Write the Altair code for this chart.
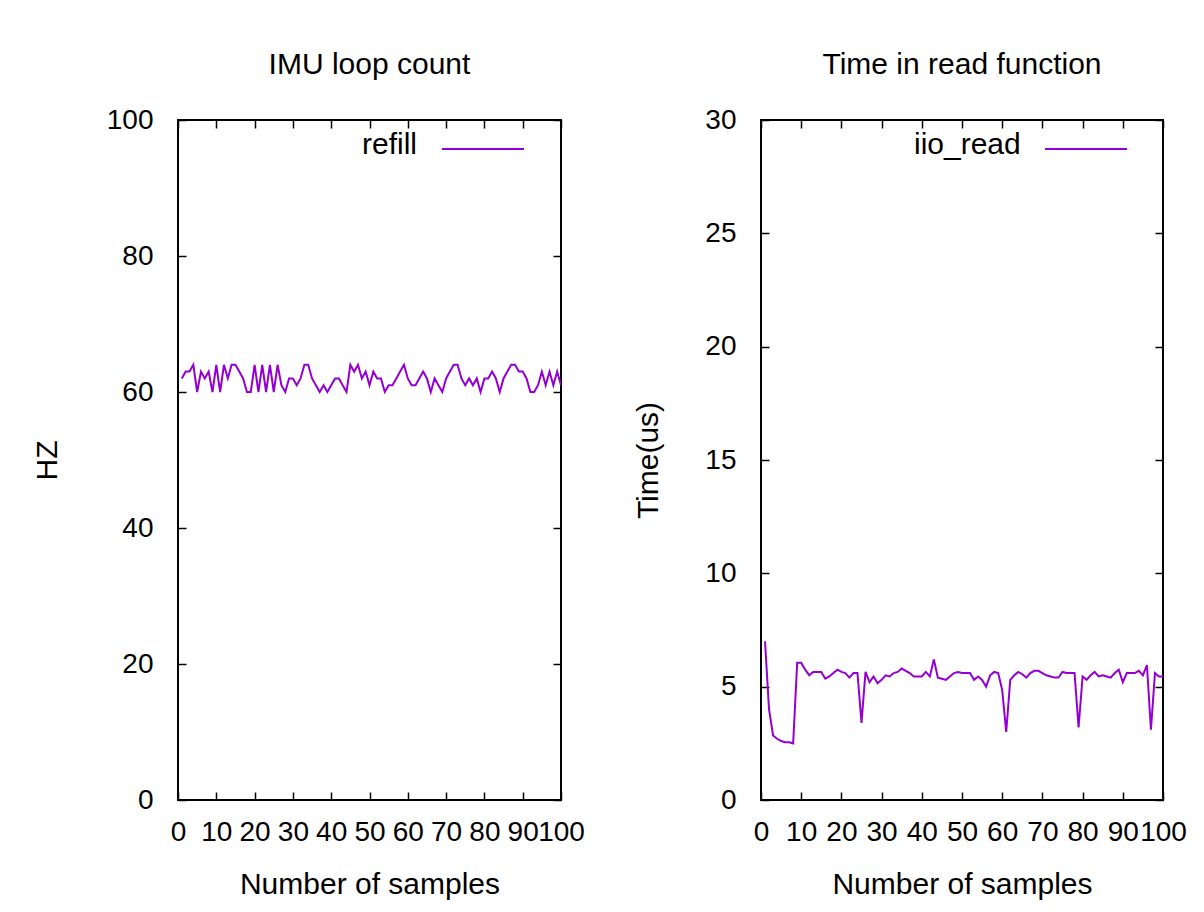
import altair as alt
import pandas as pd

samples = list(range(1, 101))

refill = [62, 63, 63, 64, 60, 63, 62, 63, 60, 64,
          60, 64, 62, 64, 64, 63, 62, 60, 60, 64,
          60, 64, 60, 64, 60, 64, 61, 60, 62, 62,
          61, 62, 64, 64, 62, 61, 60, 61, 60, 61,
          62, 62, 61, 60, 64, 63, 64, 62, 63, 61,
          63, 62, 62, 60, 61, 61, 62, 63, 64, 62,
          61, 61, 62, 63, 62, 60, 62, 61, 60, 62,
          63, 64, 64, 62, 61, 62, 61, 62, 60, 62,
          62, 63, 62, 60, 62, 63, 64, 64, 63, 63,
          62, 60, 60, 61, 63, 61, 63, 61, 63, 61]

iio_read = [7.0, 4.0, 2.85, 2.7, 2.6, 2.55, 2.55, 2.5, 6.05, 6.05,
            5.75, 5.5, 5.65, 5.65, 5.65, 5.35, 5.45, 5.6, 5.75, 5.65,
            5.6, 5.4, 5.6, 5.6, 3.4, 5.65, 5.2, 5.45, 5.15, 5.3,
            5.5, 5.45, 5.6, 5.65, 5.8, 5.7, 5.6, 5.45, 5.45, 5.45,
            5.65, 5.45, 6.2, 5.4, 5.35, 5.3, 5.45, 5.6, 5.65, 5.6,
            5.6, 5.6, 5.3, 5.45, 5.3, 5.0, 5.5, 5.65, 5.6, 4.85,
            3.0, 5.3, 5.5, 5.65, 5.55, 5.4, 5.6, 5.7, 5.7, 5.6,
            5.5, 5.45, 5.4, 5.4, 5.65, 5.6, 5.6, 5.6, 3.2, 5.45,
            5.3, 5.5, 5.65, 5.45, 5.5, 5.45, 5.4, 5.6, 5.75, 5.2,
            5.6, 5.6, 5.6, 5.7, 5.5, 5.95, 3.1, 5.6, 5.45, 5.45]

x_ticks = [0, 10, 20, 30, 40, 50, 60, 70, 80, 90, 100]
left_y_ticks = [0, 20, 40, 60, 80, 100]
right_y_ticks = [0, 5, 10, 15, 20, 25, 30]

FONT = "Liberation Sans"
FS = 30
LFS = 28
PURPLE = "#9400d3"
TICK = 8


def panel(values, name, title, ytitle, ydomain, yticks, width, height,
          legend_x, ytitle_pad):
    df = pd.DataFrame({"sample": samples, "value": values, "series": name})
    xs = alt.Scale(domain=[0, 100], nice=False, zero=False)
    ys = alt.Scale(domain=ydomain, nice=False, zero=False)
    line = alt.Chart(df).mark_line(strokeWidth=2, clip=True).encode(
        x=alt.X("sample:Q", scale=xs, title="Number of samples",
                axis=alt.Axis(orient="bottom", values=x_ticks, offset=-TICK,
                              tickSize=TICK, labelPadding=18, domain=False,
                              grid=False, titlePadding=23, format="d",
                              labelOverlap=False, labelFlush=False)),
        y=alt.Y("value:Q", scale=ys, title=ytitle,
                axis=alt.Axis(orient="left", values=yticks, offset=-TICK,
                              tickSize=TICK, labelPadding=25, domain=False,
                              grid=False, titlePadding=ytitle_pad, format="d",
                              labelOverlap=False, labelFlush=False)),
        color=alt.Color("series:N", scale=alt.Scale(range=[PURPLE]),
                        legend=alt.Legend(title=name, titleOrient="left",
                                          titleFont=FONT, titleFontSize=FS,
                                          titleFontWeight="normal",
                                          titleColor="#000",
                                          titlePadding=23,
                                          titleAnchor="middle",
                                          titleBaseline="top",
                                          orient="none",
                                          legendX=legend_x, legendY=-13,
                                          symbolType="stroke",
                                          symbolSize=6724,
                                          symbolStrokeWidth=2,
                                          labelExpr="''",
                                          labelFontSize=1)),
    )
    mirror = alt.Chart(df).mark_line(opacity=0).encode(
        x=alt.X("sample:Q", scale=xs, title=None,
                axis=alt.Axis(orient="top", values=x_ticks, offset=-TICK,
                              tickSize=TICK, labels=False, domain=False,
                              grid=False)),
        y=alt.Y("value:Q", scale=ys, title=None,
                axis=alt.Axis(orient="right", values=yticks, offset=-TICK,
                              tickSize=TICK, labels=False, domain=False,
                              grid=False)),
    )
    return alt.layer(line, mirror).resolve_axis(
        x="independent", y="independent"
    ).properties(
        width=width, height=height,
        title=alt.TitleParams(title, font=FONT, fontSize=FS, fontWeight="normal",
                              color="#000", anchor="middle", offset=26,
                              frame="group"),
    )


left = panel(refill, "refill", "IMU loop count", "HZ", [0, 100],
             left_y_ticks, 383, 680, 184, 44)
right = panel(iio_read, "iio_read", "Time in read function", "Time(us)",
              [0, 30], right_y_ticks, 402, 680, 153, 41)

chart = alt.hconcat(left, right, spacing=46).resolve_scale(
    color="independent"
).properties(
    padding={"left": 23, "top": 41, "right": 0, "bottom": 0},
    background="#ffffff",
).configure_view(
    stroke="#000", strokeWidth=2
).configure_axis(
    labelFont=FONT, labelFontSize=LFS, labelColor="#000",
    titleFont=FONT, titleFontSize=FS, titleColor="#000", titleFontWeight="normal",
    tickColor="#000", tickWidth=1.5,
)

chart.save("out.html", embed_options={"renderer": "svg", "actions": False})
